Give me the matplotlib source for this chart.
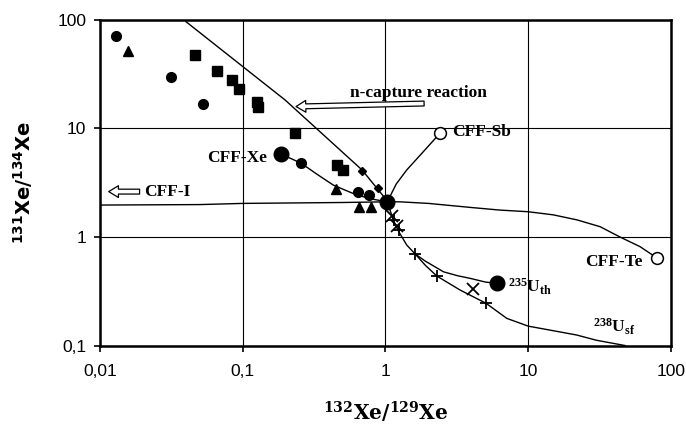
import matplotlib.pyplot as plt

plt.rcParams['font.family'] = ['Liberation Sans', 'DejaVu Sans']
plt.rcParams['mathtext.default'] = 'regular'

# ticks
xticks = [0.01, 0.1, 1, 10, 100]
xtick_labels = ['0,01', '0,1', '1', '10', '100']
yticks = [0.1, 1, 10, 100]
ytick_labels = ['0,1', '1', '10', '100']

# measured samples
circle_x = [0.0129, 0.0313, 0.053, 0.257, 0.645, 0.77]
circle_y = [71, 30, 16.7, 4.78, 2.62, 2.44]
big_circle_x = [0.185, 1.03, 6.0]
big_circle_y = [5.8, 2.11, 0.374]
triangle_x = [0.0158, 0.45, 0.656, 0.79]
triangle_y = [51.8, 2.75, 1.9, 1.9]
square_x = [0.0464, 0.0664, 0.0846, 0.0946, 0.125, 0.128, 0.231, 0.455, 0.507]
square_y = [47.5, 33.9, 28, 23.1, 17.7, 15.9, 9.04, 4.61, 4.15]
diamond_x = [0.689, 0.89]
diamond_y = [4.08, 2.81]
xmark_x = [1.12, 1.2, 4.13]
xmark_y = [1.55, 1.25, 0.33]
plus_x = [1.15, 1.25, 1.61, 2.29, 5.07]
plus_y = [1.45, 1.15, 0.70, 0.437, 0.245]
open_x = [2.41, 80.4]
open_y = [9.04, 0.637]

# model curves
ncap_x = [0.040, 0.198, 0.685, 1.03]
ncap_y = [96.4, 18.3, 4.15, 2.15]
xe_x = [0.185, 0.22, 0.257, 0.33, 0.431, 0.53, 0.63, 0.8, 1.03]
xe_y = [5.8, 5.25, 4.78, 3.8, 3.01, 2.68, 2.44, 2.24, 2.11]
cffi_x = [0.01, 0.05, 0.1, 0.5, 1.03, 1.26, 2, 4, 6.35, 10, 15, 21.9, 31.9, 44, 60.8, 80.4]
cffi_y = [1.97, 1.99, 2.04, 2.08, 2.11, 2.11, 2.04, 1.87, 1.77, 1.71, 1.6, 1.44, 1.245, 1.0, 0.815, 0.637]
sb_x = [1.03, 1.19, 1.41, 1.84, 2.41]
sb_y = [2.11, 3.08, 4.15, 6.1, 9.04]
u235_x = [1.03, 1.08, 1.13, 1.2, 1.26, 1.41, 1.61, 1.9, 2.55, 3.2, 3.92, 5.0, 6.0]
u235_y = [2.11, 1.75, 1.45, 1.22, 1.08, 0.843, 0.70, 0.60, 0.478, 0.44, 0.416, 0.385, 0.374]
u238_x = [1.61, 1.9, 2.29, 3.33, 5.07, 7.08, 10, 15, 21.9, 30, 47.8]
u238_y = [0.70, 0.55, 0.437, 0.325, 0.245, 0.178, 0.151, 0.137, 0.125, 0.112, 0.1]

fig = plt.figure(figsize=(6.86, 4.24), dpi=100)
ax = fig.add_axes([0.1458, 0.185, 0.978 - 0.1458, 0.953 - 0.185])
ax.set_xscale('log')
ax.set_yscale('log')
ax.set_xlim(0.01, 100)
ax.set_ylim(0.1, 100)

ax.grid(True, which='major', color='black', lw=0.8)
ax.minorticks_off()
ax.set_xticks(xticks, xtick_labels)
ax.set_yticks(yticks, ytick_labels)
ax.tick_params(labelsize=12.5, length=4, width=1.2, direction='out', pad=6)
ax.tick_params(axis='x', pad=9)
for s in ax.spines.values():
    s.set_linewidth(1.8)

lw = 1.0
ax.plot(ncap_x, ncap_y, color='black', lw=lw)
ax.plot(xe_x, xe_y, color='black', lw=lw)
ax.plot(cffi_x, cffi_y, color='black', lw=lw)
ax.plot(sb_x, sb_y, color='black', lw=lw)
ax.plot(u235_x, u235_y, color='black', lw=lw)
ax.plot(u238_x, u238_y, color='black', lw=lw)

ax.plot(circle_x, circle_y, 'o', color='black', ms=7)
ax.plot(big_circle_x, big_circle_y, 'o', color='black', ms=10.5)
ax.plot(triangle_x, triangle_y, '^', color='black', ms=7)
ax.plot(square_x, square_y, 's', color='black', ms=6.5)
ax.plot(diamond_x, diamond_y, 'D', color='black', ms=4.5)
ax.plot(xmark_x, xmark_y, 'x', color='black', ms=8, mew=1.3)
ax.plot(plus_x, plus_y, '+', color='black', ms=8, mew=1.3)
ax.plot(open_x, open_y, 'o', mfc='white', mec='black', ms=8.5, mew=1.1)

serif = dict(family='Liberation Serif', weight='bold', fontsize=12.5)
ax.text(0.148, 5.35, 'CFF-Xe', ha='right', va='center', **serif)
ax.text(0.0205, 2.62, 'CFF-I', ha='left', va='center', **serif)
ax.text(0.565, 21.4, 'n-capture reaction', ha='left', va='center', **serif)
ax.text(2.93, 9.35, 'CFF-Sb', ha='left', va='center', **serif)
ax.text(63.8, 0.59, 'CFF-Te', ha='right', va='center', **serif)
ax.text(7.2, 0.35, r'$^{235}$U$_{th}$', ha='left', va='center', **serif)
ax.text(28.5, 0.15, r'$^{238}$U$_{sf}$', ha='left', va='center', **serif)

arrow = dict(arrowstyle='simple,head_width=0.85,head_length=0.7,tail_width=0.35',
             fc='white', ec='black', lw=0.9)
ax.annotate('', xy=(0.011, 2.62), xytext=(0.0198, 2.62), arrowprops=arrow)
ax.annotate('', xy=(0.226, 15.9), xytext=(1.95, 17.0), arrowprops=arrow)

ax.set_xlabel(r'$^{132}$Xe/$^{129}$Xe', family='DejaVu Serif', weight='bold',
              fontsize=14.5, labelpad=15)
ax.set_ylabel(r'$^{131}$Xe/$^{134}$Xe', family='DejaVu Sans', weight='bold',
              fontsize=14, labelpad=16)

fig.savefig('out.png', dpi=100)
